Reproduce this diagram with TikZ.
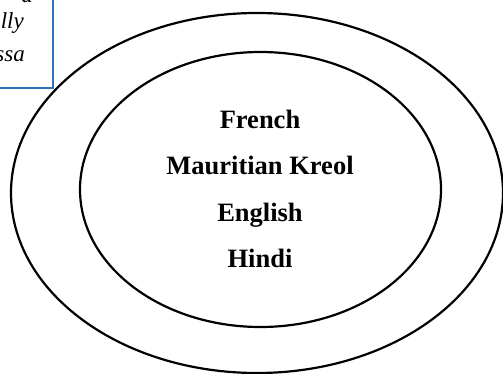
\documentclass[tikz,border=0pt]{standalone}
\usepackage{fontspec}
\setmainfont{Liberation Serif}
\definecolor{boxblue}{RGB}{46,117,182}
\tikzset{
  lang/.style = {anchor = base, font = \fontsize{26.5}{30}\selectfont\bfseries},
  note/.style = {anchor = base east, inner sep = 0pt, font = \fontsize{23}{27}\selectfont\itshape},
}
\begin{document}
\begin{tikzpicture}[x = 1pt, y = -1pt]

      \useasboundingbox (0, 0) rectangle (503, 374);
      \clip (0, 0) rectangle (503, 374);

      \draw[line width = 2.2pt] (257, 193) ellipse [x radius = 246pt, y radius = 180pt];
      \draw[line width = 2.2pt] (260.5, 189.5) ellipse [x radius = 180.5pt, y radius = 137.5pt];

      \draw[boxblue, line width = 1.5pt] (-30, -30) rectangle (53, 88);
      \node[note] (noteA) at (33, 3) {a};
      \node[note] (noteB) at (24, 29) {lly};
      \node[note] (noteC) at (25, 62) {ssa};

      \node[lang] (french) at (260, 129) {French};
      \node[lang] (kreol) at (260, 175) {Mauritian Kreol};
      \node[lang] (english) at (260, 222) {English};
      \node[lang] (hindi) at (260, 267) {Hindi};

    \end{tikzpicture}
\end{document}
